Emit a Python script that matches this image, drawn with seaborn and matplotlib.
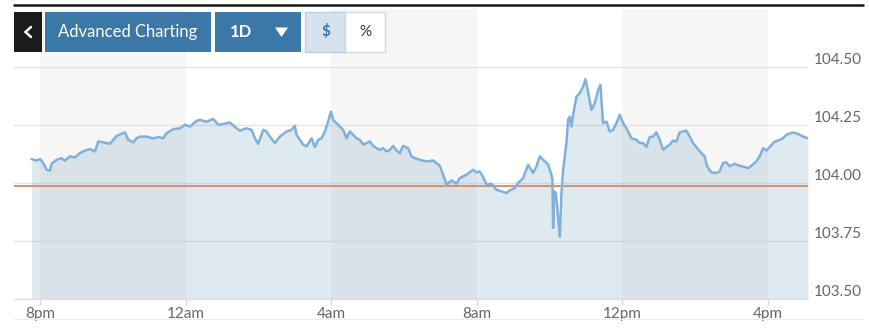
import numpy as np
import pandas as pd
import matplotlib
matplotlib.use('Agg')
import matplotlib.pyplot as plt
from matplotlib.patches import Rectangle, Polygon
from matplotlib.lines import Line2D
import seaborn as sns

# hours after 8pm, price
hours = [-0.229, -0.092, 0.000, 0.092, 0.183, 0.275, 0.321, 0.458, 0.595, 0.687, 0.824, 0.962,
         1.099, 1.236, 1.374, 1.511, 1.603, 1.740, 1.923, 2.106, 2.335, 2.427, 2.564, 2.656,
         2.747, 2.930, 3.114, 3.251, 3.388, 3.480, 3.663, 3.846, 3.984, 4.121, 4.304, 4.396,
         4.579, 4.762, 4.899, 5.037, 5.220, 5.403, 5.495, 5.678, 5.815, 5.907, 5.998, 6.136,
         6.227, 6.319, 6.456, 6.593, 6.777, 6.914, 7.005, 7.051, 7.143, 7.234, 7.326, 7.463,
         7.555, 7.647, 7.738, 7.830, 7.921, 7.995, 8.059, 8.150, 8.242, 8.333, 8.425, 8.516,
         8.608, 8.700, 8.791, 8.883, 8.974, 9.066, 9.158, 9.249, 9.341, 9.432, 9.524, 9.615,
         9.707, 9.799, 9.890, 9.982, 10.119, 10.211, 10.302, 10.440, 10.623, 10.806, 10.897,
         10.989, 11.081, 11.172, 11.310, 11.447, 11.538, 11.722, 11.905, 11.996, 12.088,
         12.179, 12.271, 12.408, 12.546, 12.683, 12.821, 12.912, 13.049, 13.141, 13.278,
         13.416, 13.553, 13.645, 13.736, 13.874, 13.965, 14.057, 14.084, 14.103, 14.130,
         14.176, 14.222, 14.286, 14.332, 14.377, 14.469, 14.515, 14.560, 14.606, 14.652,
         14.744, 14.835, 14.927, 14.991, 15.064, 15.156, 15.247, 15.339, 15.403, 15.476,
         15.568, 15.659, 15.751, 15.842, 15.934, 16.026, 16.117, 16.255, 16.392, 16.484,
         16.575, 16.667, 16.758, 16.850, 16.941, 17.033, 17.125, 17.216, 17.308, 17.399,
         17.491, 17.582, 17.674, 17.766, 17.857, 17.949, 18.086, 18.178, 18.269, 18.333,
         18.452, 18.590, 18.681, 18.773, 18.864, 18.956, 19.093, 19.231, 19.368, 19.460,
         19.551, 19.689, 19.780, 19.872, 19.963, 20.055, 20.192, 20.330, 20.421, 20.513,
         20.696, 20.833, 20.971, 21.108]
prices = [104.103, 104.097, 104.103, 104.086, 104.057, 104.054, 104.083, 104.100, 104.107,
          104.096, 104.115, 104.110, 104.129, 104.140, 104.146, 104.136, 104.179, 104.175,
          104.169, 104.203, 104.218, 104.186, 104.175, 104.193, 104.200, 104.200, 104.192,
          104.198, 104.193, 104.215, 104.232, 104.236, 104.251, 104.243, 104.268, 104.272,
          104.264, 104.276, 104.251, 104.254, 104.261, 104.236, 104.226, 104.236, 104.229,
          104.193, 104.169, 104.229, 104.222, 104.200, 104.172, 104.200, 104.222, 104.229,
          104.246, 104.208, 104.186, 104.165, 104.158, 104.193, 104.155, 104.186, 104.193,
          104.222, 104.265, 104.308, 104.272, 104.258, 104.243, 104.229, 104.193, 104.222,
          104.208, 104.193, 104.186, 104.165, 104.172, 104.179, 104.160, 104.150, 104.143,
          104.150, 104.136, 104.143, 104.160, 104.140, 104.129, 104.160, 104.150, 104.115,
          104.107, 104.100, 104.093, 104.097, 104.086, 104.074, 104.036, 103.993, 104.011,
          103.997, 104.021, 104.036, 104.057, 104.046, 104.050, 104.026, 103.993, 103.997,
          103.971, 103.964, 103.957, 103.968, 103.978, 104.000, 104.021, 104.079, 104.043,
          104.072, 104.115, 104.093, 104.079, 104.036, 104.014, 103.806, 103.964, 103.957,
          103.885, 103.768, 103.957, 104.057, 104.172, 104.272, 104.286, 104.243, 104.294,
          104.372, 104.387, 104.415, 104.447, 104.394, 104.315, 104.344, 104.401, 104.423,
          104.258, 104.265, 104.222, 104.229, 104.258, 104.294, 104.258, 104.236, 104.193,
          104.186, 104.172, 104.172, 104.155, 104.198, 104.200, 104.218, 104.186, 104.143,
          104.155, 104.165, 104.183, 104.179, 104.218, 104.222, 104.226, 104.200, 104.172,
          104.146, 104.129, 104.115, 104.072, 104.046, 104.043, 104.050, 104.086, 104.089,
          104.072, 104.083, 104.074, 104.069, 104.064, 104.074, 104.093, 104.115, 104.150,
          104.140, 104.155, 104.179, 104.186, 104.193, 104.208, 104.218, 104.212, 104.200,
          104.193]
prev_close = 103.985
tick_hours = [0, 4, 8, 12, 16, 20]
tick_labels = ['8pm', '12am', '4am', '8am', '12pm', '4pm']
y_ticks = [103.50, 103.75, 104.00, 104.25, 104.50]
shaded_blocks = [(0, 4), (8, 12), (16, 20)]

df = pd.DataFrame({'hours': hours, 'price': prices})

sns.set_theme(style='white')
plt.rcParams['font.family'] = ['Lato', 'DejaVu Sans']

W, H = 870, 336
fig = plt.figure(figsize=(8.7, 3.36), dpi=100)
fig.patch.set_facecolor('white')

def fx(px):
    return px / W

def fy(py):
    return 1 - py / H

ax = fig.add_axes([fx(14), fy(299), fx(808) - fx(14), fy(9) - fy(299)])
ax.set_facecolor('white')
ax.set_xlim(-0.714, 21.108)
ax.set_ylim(103.5, 104.75)

for a, b in shaded_blocks:
    ax.axvspan(a, b, color='#f6f6f6', lw=0, zorder=0)

for yv in y_ticks:
    ax.axhline(yv, color='#e4e4e4', lw=1.0, zorder=1)

ax.fill_between(df['hours'], df['price'], 103.3, color='#87abc7', alpha=0.26, lw=0, zorder=2)
ax.axhline(prev_close, color='#d88a5e', lw=1.3, zorder=3)
sns.lineplot(data=df, x='hours', y='price', ax=ax, color='#80b1dc', lw=1.8, zorder=4)

ax.set_xlabel('')
ax.set_ylabel('')
ax.yaxis.tick_right()
ax.set_yticks(y_ticks)
ax.set_yticklabels([f'{v:.2f}' for v in y_ticks])
for lab in ax.get_yticklabels():
    lab.set_verticalalignment('bottom')
ax.tick_params(axis='y', length=0, pad=4, labelsize=11, labelcolor='#666666')
ax.set_xticks(tick_hours)
ax.set_xticklabels(tick_labels)
ax.tick_params(axis='x', length=4, width=1, color='#d8d8d8', pad=2, labelsize=11,
               labelcolor='#666666', bottom=True)
for s in ['top', 'right', 'left']:
    ax.spines[s].set_visible(False)
ax.spines['bottom'].set_color('#e0e0e0')
ax.spines['bottom'].set_linewidth(1.0)

# top rule and bottom rule
fig.add_artist(Line2D([fx(14), fx(863)], [fy(5), fy(5)], color='#151515', lw=1.8))
fig.add_artist(Line2D([fx(14), fx(863)], [fy(319), fy(319)], color='#ececec', lw=1.0))

# buttons
def button(x0, x1, face, edge=None):
    fig.add_artist(Rectangle((fx(x0), fy(52)), fx(x1) - fx(x0), fy(12) - fy(52),
                             facecolor=face, edgecolor=edge if edge else face,
                             lw=1 if edge else 0, transform=fig.transFigure, zorder=10))

blue = '#3b77a7'
button(14, 41.5, '#1b1b1b')
button(45.5, 211, blue)
button(215.5, 301, blue)
button(305.5, 345.5, '#d6e3ee', '#bcd0e2')
button(345.5, 385.5, '#ffffff', '#c9d9e7')

# chevron "<"
fig.add_artist(Line2D([fx(31), fx(25.5), fx(31)], [fy(27), fy(32), fy(37)], color='white',
                      lw=1.8, solid_capstyle='round', solid_joinstyle='miter', zorder=11))
fig.text(fx(128), fy(32), 'Advanced Charting', color='white', fontsize=12,
         ha='center', va='center', zorder=11)
fig.text(fx(241), fy(32), '1D', color='white', fontsize=12, fontweight='bold',
         ha='center', va='center', zorder=11)
tri = Polygon([[fx(275), fy(27.5)], [fx(288), fy(27.5)], [fx(281.5), fy(37)]], closed=True,
              facecolor='white', edgecolor='none', transform=fig.transFigure, zorder=11)
fig.add_artist(tri)
fig.text(fx(325.5), fy(32), '$', color=blue, fontsize=11, fontweight='bold',
         ha='center', va='center', zorder=11)
fig.text(fx(365.5), fy(32), '%', color='#333333', fontsize=11,
         ha='center', va='center', zorder=11)

fig.savefig('out.png', dpi=100, facecolor='white')
